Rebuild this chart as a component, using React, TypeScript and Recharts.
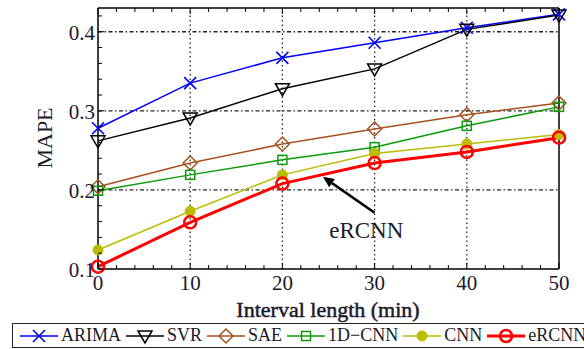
import { LineChart, Line, XAxis, YAxis, ReferenceLine, ReferenceDot } from "recharts";

const intervals = [0, 10, 20, 30, 40, 50];
const arima = [0.278, 0.335, 0.367, 0.386, 0.405, 0.422];
const svr = [0.262, 0.291, 0.328, 0.353, 0.403, 0.421];
const sae = [0.204, 0.234, 0.258, 0.277, 0.295, 0.31];
const cnn1d = [0.199, 0.219, 0.238, 0.254, 0.281, 0.305];
const cnn = [0.124, 0.173, 0.219, 0.246, 0.258, 0.27];
const ercnn = [0.103, 0.159, 0.208, 0.234, 0.248, 0.266];

const xMinorTicks = [0, 2, 4, 6, 8, 10, 12, 14, 16, 18, 20, 22, 24, 26, 28, 30, 32, 34, 36, 38, 40, 42, 44, 46, 48, 50];
const yMinorTicks = [0.1, 0.12, 0.14, 0.16, 0.18, 0.2, 0.22, 0.24, 0.26, 0.28, 0.3, 0.32, 0.34, 0.36, 0.38, 0.4, 0.42];
const xGrid = [10, 20, 30, 40];
const yGrid = [0.2, 0.3, 0.4];

const data = intervals.map((x, i) => ({
  x,
  ARIMA: arima[i],
  SVR: svr[i],
  SAE: sae[i],
  "1D-CNN": cnn1d[i],
  CNN: cnn[i],
  eRCNN: ercnn[i],
}));

const font = '"Liberation Serif", "DejaVu Serif", serif';
const ink = "#1a1a2a";

const isMajorX = (v: number) => v % 10 === 0;
const isMajorY = (v: number) => Math.abs(v * 10 - Math.round(v * 10)) < 1e-6;

// marker shapes
function Marker({ kind, cx, cy, color }: { kind: string; cx: number; cy: number; color: string }) {
  switch (kind) {
    case "cross":
      return (
        <g stroke={color} strokeWidth={1.6}>
          <line x1={cx - 6} y1={cy - 6} x2={cx + 6} y2={cy + 6} />
          <line x1={cx - 6} y1={cy + 6} x2={cx + 6} y2={cy - 6} />
        </g>
      );
    case "tri":
      return <polygon points={`${cx - 7},${cy - 5} ${cx + 7},${cy - 5} ${cx},${cy + 7}`} fill="none" stroke={color} strokeWidth={1.5} />;
    case "diamond":
      return <polygon points={`${cx},${cy - 7} ${cx + 7},${cy} ${cx},${cy + 7} ${cx - 7},${cy}`} fill="none" stroke={color} strokeWidth={1.5} />;
    case "square":
      return <rect x={cx - 4.5} y={cy - 4.5} width={9} height={9} fill="none" stroke={color} strokeWidth={1.5} />;
    case "dot":
      return <circle cx={cx} cy={cy} r={5} fill={color} stroke={color} />;
    default:
      return <circle cx={cx} cy={cy} r={6} fill="none" stroke={color} strokeWidth={2.5} />;
  }
}

const series = [
  { key: "ARIMA", color: "#0000ff", kind: "cross", width: 1.5 },
  { key: "SVR", color: "#000000", kind: "tri", width: 1.5 },
  { key: "SAE", color: "#a8501e", kind: "diamond", width: 1.5 },
  { key: "1D-CNN", color: "#0a9a0a", kind: "square", width: 1.5 },
  { key: "CNN", color: "#bcbc00", kind: "dot", width: 1.5 },
  { key: "eRCNN", color: "#ff0000", kind: "circle", width: 3 },
];

const BottomTick = ({ x, y, payload }: any) => (
  <g>
    <line x1={x} x2={x} y1={y} y2={y - (isMajorX(payload.value) ? 6 : 4)} stroke="#000" />
    {isMajorX(payload.value) && (
      <text x={x} y={y + 21} textAnchor="middle" fontSize={21} fontFamily={font} fill={ink}>
        {payload.value}
      </text>
    )}
  </g>
);

const TopTick = ({ x, y, payload }: any) => (
  <line x1={x} x2={x} y1={y} y2={y + (isMajorX(payload.value) ? 6 : 4)} stroke="#000" />
);

const LeftTick = ({ x, y, payload }: any) => (
  <g>
    <line x1={x} x2={x + (isMajorY(payload.value) ? 6 : 4)} y1={y} y2={y} stroke="#000" />
    {isMajorY(payload.value) && (
      <text x={x - 3} y={y + 8} textAnchor="end" fontSize={21} fontFamily={font} fill={ink}>
        {payload.value.toFixed(1)}
      </text>
    )}
  </g>
);

const RightTick = ({ x, y, payload }: any) => (
  <line x1={x} x2={x - (isMajorY(payload.value) ? 6 : 4)} y1={y} y2={y} stroke="#000" />
);

const Arrow = ({ x1, y1, x2, y2 }: any) => {
  const ang = Math.atan2(y2 - y1, x2 - x1);
  const L = 11;
  const W = 5;
  const bx = x2 - L * Math.cos(ang);
  const by = y2 - L * Math.sin(ang);
  const px = -Math.sin(ang) * W;
  const py = Math.cos(ang) * W;
  return (
    <g>
      <line x1={x1} y1={y1} x2={bx} y2={by} stroke="#000" strokeWidth={2.5} />
      <polygon points={`${x2},${y2} ${bx + px},${by + py} ${bx - px},${by - py}`} fill="#000" />
    </g>
  );
};

function LegendBox() {
  return (
    <div
      style={{
        position: "absolute",
        left: 12,
        top: 323,
        width: 600,
        height: 25,
        border: "1px solid #222",
        display: "flex",
        alignItems: "center",
        paddingLeft: 7,
        fontFamily: font,
        fontSize: 18,
        color: ink,
        boxSizing: "border-box",
      }}
    >
      {series.map((s) => (
        <div key={s.key} style={{ display: "flex", alignItems: "center", marginRight: 5 }}>
          <svg width={38} height={20}>
            <line x1={0} x2={38} y1={10} y2={10} stroke={s.color} strokeWidth={s.width} />
            <Marker kind={s.kind} cx={19} cy={10} color={s.color} />
          </svg>
          <span style={{ marginLeft: 3, fontFamily: font }}>{s.key === "1D-CNN" ? "1D\u2212CNN" : s.key}</span>
        </div>
      ))}
    </div>
  );
}

export default function App() {
  return (
    <div style={{ position: "absolute", left: 0, top: 0, width: 584, height: 349, overflow: "hidden", background: "#fff" }}>
      <LineChart width={584} height={349} data={data} margin={{ top: 0, right: 0, bottom: 50, left: 0 }}>
        <XAxis
          dataKey="x"
          type="number"
          domain={[0, 50]}
          ticks={xMinorTicks}
          interval={0}
          tickSize={0}
          tickMargin={0}
          height={30}
          tick={<BottomTick />}
          axisLine={{ stroke: "#000", strokeWidth: 1.5 }}
        />
        <XAxis
          xAxisId="top"
          orientation="top"
          dataKey="x"
          type="number"
          domain={[0, 50]}
          ticks={xMinorTicks}
          interval={0}
          tickSize={0}
          tickMargin={0}
          height={8}
          tick={<TopTick />}
          axisLine={{ stroke: "#000", strokeWidth: 1.5 }}
        />
        <YAxis
          type="number"
          domain={[0.1, 0.43]}
          ticks={yMinorTicks}
          interval={0}
          tickSize={0}
          tickMargin={0}
          width={98}
          tick={<LeftTick />}
          axisLine={{ stroke: "#000", strokeWidth: 1.5 }}
        />
        <YAxis
          yAxisId="right"
          orientation="right"
          type="number"
          domain={[0.1, 0.43]}
          ticks={yMinorTicks}
          interval={0}
          tickSize={0}
          tickMargin={0}
          width={25}
          tick={<RightTick />}
          axisLine={{ stroke: "#000", strokeWidth: 1.5 }}
        />
        {xGrid.map((v) => (
          <ReferenceLine key={"gx" + v} x={v} stroke="#222" strokeWidth={1.3} strokeDasharray="1.5 3" />
        ))}
        {yGrid.map((v) => (
          <ReferenceLine key={"gy" + v} y={v} stroke="#222" strokeWidth={1.3} strokeDasharray="4 2.5 1.5 2.5" />
        ))}
        {series.map((s) => (
          <Line
            key={s.key}
            dataKey={s.key}
            stroke={s.color}
            strokeWidth={s.width}
            isAnimationActive={false}
            dot={(p: any) => <Marker key={s.key + p.index} kind={s.kind} cx={p.cx} cy={p.cy} color={s.color} />}
          />
        ))}
        <ReferenceLine
          segment={[
            { x: 30, y: 0.171 },
            { x: 24.4, y: 0.2165 },
          ]}
          shape={<Arrow />}
        />
        <ReferenceDot
          x={29.1}
          y={0.149}
          r={0}
          shape={(p: any) => (
            <text x={p.cx} y={p.cy + 8} textAnchor="middle" fontSize={23} fontFamily={font} fill={ink}>
              eRCNN
            </text>
          )}
        />
      </LineChart>
      <div
        style={{
          position: "absolute",
          left: 45,
          top: 138,
          transform: "translate(-50%, -50%) rotate(-90deg)",
          fontFamily: font,
          fontSize: 22,
          color: ink,
          whiteSpace: "nowrap",
        }}
      >
        MAPE
      </div>
      <div
        style={{
          position: "absolute",
          left: 328,
          top: 310,
          transform: "translate(-50%, -50%)",
          fontFamily: font,
          fontSize: 22,
          lineHeight: "22px",
          WebkitTextStroke: "0.5px " + ink,
          color: ink,
          whiteSpace: "nowrap",
        }}
      >
        Interval length (min)
      </div>
      <LegendBox />
    </div>
  );
}
